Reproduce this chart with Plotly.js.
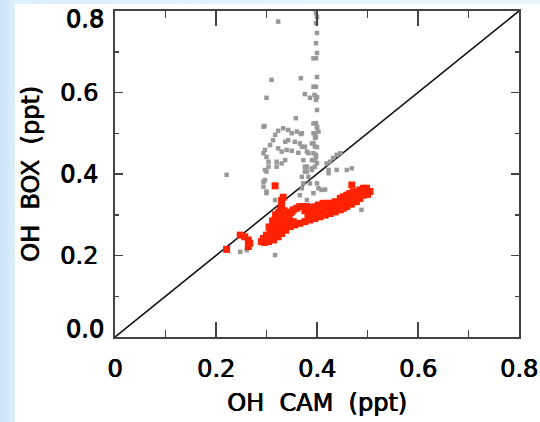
<!DOCTYPE html>
<html>
<head>
<meta charset="utf-8">
<script src="https://cdn.plot.ly/plotly-3.0.1.min.js"></script>
<style>
  html, body { margin: 0; padding: 0; width: 540px; height: 422px; overflow: hidden; }
  body { background: linear-gradient(to right, #c9e4f7 0px, #ddeffb 15px, #eaf6fd 100%); position: relative; }
  #white { position: absolute; left: 15px; top: 4px; right: 0; bottom: 0; background: #ffffff; }
  #chart { position: absolute; left: 0; top: 0; width: 540px; height: 422px; }
</style>
</head>
<body>
<div id="white"></div>
<div id="chart"></div>
<script>
// OH CAM (x) vs OH BOX (y), ppt
const grayX = [
  0.398,0.400,0.398,0.400,0.398,0.400,0.398,0.400,0.398,0.400,0.398,0.400,0.398,0.400,0.398,0.400,0.398,0.400,
  0.323,0.393,0.310,0.368,0.300,0.393,0.376,0.386,0.395,0.358,0.294,0.296,
  0.323,0.333,0.343,0.350,0.360,0.368,0.317,0.313,0.307,0.337,0.343,0.356,0.297,0.294,0.300,
  0.323,0.330,0.340,0.350,0.363,0.376,0.383,0.390,0.393,0.304,0.304,0.300,0.320,0.320,0.330,0.337,
  0.297,0.297,0.221,0.294,0.300,0.380,0.376,0.383,0.390,0.393,0.386,0.393,
  0.393,0.400,0.396,0.370,0.396,0.393,0.396,0.366,0.370,0.380,0.393,0.398,0.373,0.390,0.396,
  0.376,0.390,0.396,0.380,0.432,0.439,0.446,0.426,0.419,0.423,0.439,0.459,0.469,
  0.370,0.373,0.370,0.366,0.403,0.409,0.416,0.400,
  0.294,0.300,0.317,0.423,0.380,0.488,0.248,0.261,0.317,0.469,0.403
];
const grayY = [
  0.795,0.785,0.770,0.746,0.721,0.697,0.684,0.638,0.614,0.589,0.582,0.557,0.525,0.513,0.491,0.466,0.442,0.427,
  0.774,0.684,0.631,0.635,0.587,0.614,0.596,0.587,0.594,0.537,0.516,0.518,
  0.506,0.512,0.508,0.500,0.504,0.498,0.496,0.483,0.471,0.479,0.483,0.479,0.459,0.451,0.442,
  0.463,0.455,0.459,0.457,0.452,0.467,0.451,0.475,0.500,0.430,0.418,0.406,0.430,0.418,0.426,0.434,
  0.410,0.385,0.398,0.369,0.357,0.418,0.406,0.393,0.410,0.434,0.377,0.353,
  0.524,0.516,0.500,0.500,0.488,0.475,0.467,0.475,0.467,0.455,0.451,0.447,0.434,0.434,0.434,
  0.418,0.414,0.418,0.406,0.439,0.447,0.451,0.430,0.426,0.410,0.410,0.410,0.414,
  0.393,0.377,0.365,0.348,0.365,0.361,0.362,0.377,
  0.381,0.353,0.336,0.402,0.336,0.312,0.209,0.213,0.201,0.353,0.504
];
const redX = [
  0.221,0.317,0.469,
  0.248,0.257,0.264,0.267,0.264,
  0.333,0.330,0.330,0.327,0.323,0.320,0.314,0.307,0.300,0.294,0.290,
  0.296,0.304,0.314,0.323,0.330,0.338,
  0.347,0.356,0.366,0.376,0.386,0.396,0.406,0.416,0.426,0.436,0.446,0.452,0.459,0.468,0.478,0.485,0.492,
  0.340,0.347,0.353,0.360,0.366,0.373,0.380,0.386,0.393,0.398,0.403,0.412,0.420,0.426,0.436,0.446,0.452,0.459,0.465,0.472,0.478,0.485,0.492,0.498,0.505,0.500,
  0.317,0.325,0.330,0.337,0.343,0.350,0.340,0.347,0.353,0.336,0.325,0.318,0.310,0.320,0.328,0.345,
  0.376,0.383,0.390,0.396,0.403,0.410,0.418,0.425,0.433,0.440,0.447,0.455,0.462,0.470,0.478,0.486,0.382,0.392,
  0.318,0.324,0.335,0.312,0.305,0.330,0.336,0.315,0.303
];
const redY = [
  0.215,0.371,0.373,
  0.250,0.246,0.238,0.230,0.222,
  0.343,0.335,0.324,0.312,0.299,0.287,0.275,0.263,0.250,0.242,0.234,
  0.232,0.234,0.238,0.246,0.254,0.262,
  0.271,0.275,0.279,0.283,0.287,0.291,0.295,0.299,0.303,0.307,0.312,0.316,0.320,0.326,0.332,0.340,0.348,
  0.300,0.305,0.312,0.316,0.320,0.320,0.320,0.318,0.316,0.320,0.324,0.328,0.328,0.328,0.332,0.340,0.344,0.348,0.352,0.356,0.356,0.361,0.365,0.365,0.357,0.350,
  0.287,0.280,0.291,0.295,0.303,0.307,0.271,0.275,0.283,0.283,0.268,0.262,0.255,0.255,0.262,0.288,
  0.310,0.306,0.307,0.305,0.310,0.313,0.316,0.318,0.320,0.323,0.328,0.333,0.338,0.342,0.345,0.352,0.296,0.298,
  0.300,0.305,0.310,0.285,0.270,0.270,0.300,0.245,0.242
];
const diagX = [0, 0.8];
const diagY = [0, 0.8];
const xTickVals = [0, 0.2, 0.4, 0.6, 0.8];
const xTickText = ['0', '0.2', '0.4', '0.6', '0.8'];
const yTickVals = [0, 0.2, 0.4, 0.6, 0.8];
const yTickText = ['0.0', '0.2', '0.4', '0.6', '0.8'];

const font = {family: 'DejaVu Sans, sans-serif', size: 24, color: '#000',
              shadow: '0.7px 0 0 #000, 0 0.4px 0 #000'};

const traces = [
  {x: diagX, y: diagY, mode: 'lines', line: {color: '#111', width: 1.6}, hoverinfo: 'skip', showlegend: false},
  {x: grayX, y: grayY, mode: 'markers', marker: {symbol: 'square', size: 4.5, color: '#999999'}, showlegend: false},
  {x: redX, y: redY, mode: 'markers', marker: {symbol: 'square', size: 7, color: '#ff2200'}, showlegend: false},
  // empty traces that carry the end tick labels of the y axis
  {x: [], y: [], yaxis: 'y2', showlegend: false, hoverinfo: 'skip'},
  {x: [], y: [], yaxis: 'y3', showlegend: false, hoverinfo: 'skip'}
];

const axisCommon = {
  showline: true, linecolor: '#444', linewidth: 2, mirror: 'ticks',
  ticks: 'inside', tickwidth: 1.5, tickcolor: '#444',
  showgrid: false, zeroline: false, tickfont: font, fixedrange: true
};

const yEndAxis = (i, shift) => ({
  overlaying: 'y', side: 'left', range: [0, 0.8], tickmode: 'array',
  tickvals: [yTickVals[i]], ticktext: [yTickText[i]], ticks: '', showline: false,
  showgrid: false, zeroline: false, tickfont: font, ticklabelstandoff: 10,
  ticklabelshift: shift, ticklabeloverflow: 'allow', fixedrange: true
});

const layout = {
  width: 540, height: 422,
  margin: {l: 115, r: 21, t: 11, b: 85},
  paper_bgcolor: 'rgba(0,0,0,0)', plot_bgcolor: '#ffffff',
  showlegend: false,
  xaxis: Object.assign({}, axisCommon, {
    range: [0, 0.8], tickmode: 'array', tickvals: xTickVals, ticktext: xTickText,
    ticklen: 15, ticklabelstandoff: 9, ticklabeloverflow: 'allow',
    minor: {dtick: 0.1, ticks: 'inside', ticklen: 7, tickwidth: 1.5, tickcolor: '#444', showgrid: false},
    title: {text: 'OH\u00a0 CAM\u00a0 (ppt)', font: font, standoff: 12}
  }),
  yaxis: Object.assign({}, axisCommon, {
    range: [0, 0.8], tickmode: 'array', tickvals: yTickVals.slice(1, 4), ticktext: yTickText.slice(1, 4),
    ticklen: 8, ticklabelstandoff: 10,
    minor: {dtick: 0.1, ticks: 'inside', ticklen: 4, tickwidth: 1.5, tickcolor: '#444', showgrid: false},
    title: {text: 'OH\u00a0 BOX\u00a0 (ppt)', font: font, standoff: 14}
  }),
  yaxis2: yEndAxis(4, 8),
  yaxis3: yEndAxis(0, -8)
};

Plotly.newPlot('chart', traces, layout, {displayModeBar: false, staticPlot: true});
</script>
</body>
</html>
